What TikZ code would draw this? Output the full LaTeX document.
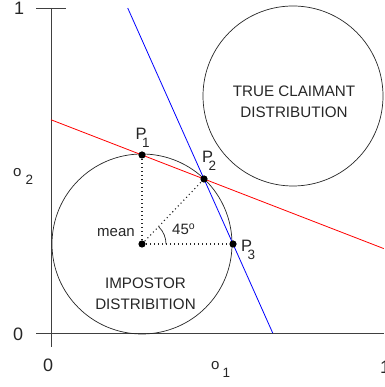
\documentclass[tikz,border=0pt]{standalone}
\usepackage{fontspec}
\setmainfont{Liberation Sans}
\usetikzlibrary{calc}

\newcommand{\lowsub}[1]{\raisebox{-8pt}{\fontsize{13.5}{15}\selectfont #1}}

\begin{document}
\begin{tikzpicture}[x=1pt, y=1pt,
    axis/.style={black!75, line width=0.9pt},
    distr/.style={black!85, line width=0.7pt},
    guide/.style={black!85, line width=1.1pt, dash pattern=on 1.1pt off 2.9pt},
    lbl/.style={black!85, font=\fontsize{15}{17}\selectfont, inner sep=0pt},
    plbl/.style={black!85, font=\fontsize{16.5}{18}\selectfont, inner sep=0pt, anchor=base west},
    axnum/.style={black!85, font=\fontsize{18}{20}\selectfont, inner sep=0pt, anchor=base west},
    caps/.style={black!85, font=\fontsize{15.2}{21}\selectfont, align=center, inner sep=0pt}]
    \useasboundingbox (0,0) rectangle (384,387);

    % ===== ASSI =====
    \coordinate (yTop) at (51,379);
    \coordinate (yBot) at (51,40);
    \coordinate (tickL) at (36,379);
    \coordinate (tickR) at (66,379);
    \coordinate (xL) at (36,54);
    \coordinate (xR) at (384,54);
    \draw[axis] (yTop) -- (yBot);
    \draw[axis] (tickL) -- (tickR);
    \draw[axis] (xL) -- (xR);

    \node[axnum] (oneY) at (14,372) {1};
    \node[axnum] (zeroY) at (13,46) {0};
    \node[axnum] (zeroX) at (43,15) {0};
    \node[axnum] (oneX) at (380,13) {1};
    \node[lbl, anchor=base west] (oOne) at (211,17) {o\hspace{3pt}\lowsub{1}};
    \node[lbl, anchor=base west] (oTwo) at (13,210) {o\hspace{4pt}\lowsub{2}};

    % ===== DISTRIBUZIONI =====
    \coordinate (mean) at (142,143);
    \coordinate (claim) at (293,291);
    \draw[distr] (mean) circle[radius=90];
    \draw[distr] (claim) circle[radius=90];
    \node[caps] (impTxt) at (145.5,93) {IMPOSTOR\\DISTRIBITION};
    \node[caps] (claimTxt) at (294,285) {TRUE CLAIMANT\\DISTRIBUTION};

    % punti
    \coordinate (P1) at (142,232);
    \coordinate (P2) at (204,208);
    \coordinate (P3) at (233,143);

    % linee di decisione
    \coordinate (redA) at ($(P1)!-1.468!(P2)$);
    \coordinate (redB) at ($(P1)!3.9!(P2)$);
    \coordinate (blueA) at ($(P3)!3.63!(P2)$);
    \coordinate (blueB) at ($(P3)!-1.37!(P2)$);
    \draw[red, line width=0.8pt] (redA) -- (redB);
    \draw[blue, line width=0.8pt] (blueA) -- (blueB);

    % raggi e angolo
    \draw[guide] (mean) -- (P1);
    \draw[guide] (mean) -- (P2);
    \draw[guide] (mean) -- (P3);
    \draw[distr] ($(mean)+(24,0)$) arc[start angle=0, end angle=45, radius=24];

    \foreach \p in {mean, P1, P2, P3} {
        \fill[black] (\p) circle[radius=3.6];
    }

    \node[lbl, anchor=base west] (meanTxt) at (97,150) {mean};
    \node[lbl, anchor=base west] (angTxt) at (172,152) {45\textsuperscript{o}};
    \node[plbl] (lblP1) at (135.5,247) {P\hspace{-4.5pt}\lowsub{1}};
    \node[plbl] (lblP2) at (202,224) {P\hspace{-4.5pt}\lowsub{2}};
    \node[plbl] (lblP3) at (241,135) {P\hspace{-4.5pt}\lowsub{3}};
\end{tikzpicture}
\end{document}
